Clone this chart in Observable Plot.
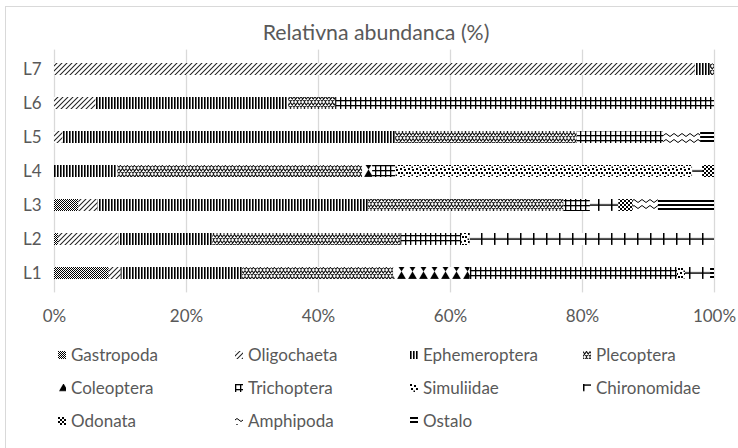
<!DOCTYPE html>
<html><head><meta charset="utf-8">
<script src="https://cdn.jsdelivr.net/npm/d3@7"></script>
<script src="https://cdn.jsdelivr.net/npm/@observablehq/plot@0.6"></script>
<style>
body{margin:0;background:#fff;font-family:Lato,"Open Sans",sans-serif;}
#wrap{position:relative;width:738px;height:448px;overflow:hidden;background:#fff;}
#frame{position:absolute;left:5px;top:6px;width:760px;height:470px;border:1px solid #d9d9d9;box-sizing:border-box;}
#title{position:absolute;left:0;top:18px;width:752px;text-align:center;font-size:21.3px;color:#595959;line-height:28px;}
#plot{position:absolute;left:0;top:0;}
.leg{position:absolute;display:flex;align-items:center;font-size:17px;color:#595959;line-height:20px;white-space:nowrap;}
.leg svg{margin-right:5px;flex:none;}
</style></head>
<body>
<svg width="0" height="0" style="position:absolute">
<defs>
<pattern id="p0" width="2" height="2" patternUnits="userSpaceOnUse"><rect width="2" height="2" fill="#fff"/><rect width="1" height="1" fill="#000"/><rect x="1" y="1" width="1" height="1" fill="#000"/></pattern>
<pattern id="p1" width="5" height="5" patternUnits="userSpaceOnUse"><rect width="5" height="5" fill="#fff"/><path d="M-1,6 L6,-1 M-1,1 L1,-1 M4,6 L6,4" stroke="#222" stroke-width="1.05"/></pattern>
<pattern id="p2" width="3" height="3" patternUnits="userSpaceOnUse"><rect width="3" height="3" fill="#fff"/><rect width="1.6" height="3" fill="#000"/></pattern>
<pattern id="p3" width="7" height="6" patternUnits="userSpaceOnUse"><rect width="7" height="6" fill="#fff"/><path d="M0,0.5 L3.5,5.5 L7,0.5 M0,5.5 L3.5,0.5 L7,5.5" stroke="#111" stroke-width="1.1" fill="none"/></pattern>
<pattern id="p4" width="11" height="34" y="62.86" patternUnits="userSpaceOnUse"><rect width="11" height="34" fill="#fff"/><path d="M2.5,0 L8.5,0 L5.5,4.5 Z M1,12.3 L10,12.3 L5.5,4.5 Z" fill="#000"/></pattern>
<pattern id="p5" width="5" height="5" patternUnits="userSpaceOnUse"><rect width="5" height="5" fill="#fff"/><rect width="1.3" height="5" fill="#000"/><rect width="5" height="1.3" fill="#000"/></pattern>
<pattern id="p6" width="8" height="8" patternUnits="userSpaceOnUse"><rect width="8" height="8" fill="#fff"/><rect x="0" y="0" width="2" height="2" fill="#000"/><rect x="4" y="1" width="2" height="2" fill="#000"/><rect x="1" y="4" width="2" height="2" fill="#000"/><rect x="6" y="4" width="2" height="2" fill="#000"/><rect x="3.5" y="6.5" width="1.5" height="1.5" fill="#000"/></pattern>
<pattern id="p7" width="13" height="34" y="62.86" patternUnits="userSpaceOnUse"><rect width="13" height="34" fill="#fff"/><rect width="1.5" height="12.3" fill="#000"/><rect y="5.4" width="13" height="1.5" fill="#000"/></pattern>
<pattern id="p8" width="4" height="4" patternUnits="userSpaceOnUse"><rect width="4" height="4" fill="#fff"/><rect width="2" height="2" fill="#000"/><rect x="2" y="2" width="2" height="2" fill="#000"/></pattern>
<pattern id="p9" width="8" height="6" patternUnits="userSpaceOnUse"><rect width="8" height="6" fill="#fff"/><path d="M0,3 Q2,0 4,3 T8,3" stroke="#000" stroke-width="1" fill="none"/></pattern>
<pattern id="p10" width="4" height="4" patternUnits="userSpaceOnUse"><rect width="4" height="4" fill="#fff"/><rect width="4" height="2" fill="#000"/></pattern>
</defs>
</svg>
<div id="wrap">
<div id="frame"></div>
<div id="title">Relativna abundanca (%)</div>
<div id="plot"></div>
</div>
<script>
const sites = ["L1","L2","L3","L4","L5","L6","L7"];
const taxa = ["Gastropoda","Oligochaeta","Ephemeroptera","Plecoptera","Coleoptera","Trichoptera","Simuliidae","Chironomidae","Odonata","Amphipoda","Ostalo"];
// values per site L1..L7 (%)
const gastropoda    = [8.3, 0.6, 3.7, 0,    0,    0,    0];
const oligochaeta   = [1.8, 9.2, 2.9, 0,    1.3,  6.3,  97.1];
const ephemeroptera = [18.4,14.2,41.0,9.6,  50.4, 29.2, 2.3];
const plecoptera    = [22.9,28.5,29.6,37.1, 27.5, 7.1,  0.6];
const coleoptera    = [11.6,0,   0,   1.5,  0,    0,    0];
const trichoptera   = [31.4,9.2, 4.0, 3.5,  13.1, 57.4, 0];
const simuliidae    = [1.2, 1.3, 0,   45.0, 0,    0,    0];
const chironomidae  = [3.8, 37.0,4.3, 1.5,  0,    0,    0];
const odonata       = [0,   0,   2.2, 1.8,  0,    0,    0];
const amphipoda     = [0,   0,   3.8, 0,    5.6,  0,    0];
const ostalo        = [0.6, 0,   8.5, 0,    2.1,  0,    0];
const xTicks = [0,20,40,60,80,100];

const series = [gastropoda,oligochaeta,ephemeroptera,plecoptera,coleoptera,trichoptera,simuliidae,chironomidae,odonata,amphipoda,ostalo];
const data = [];
sites.forEach((s,i)=>taxa.forEach((t,j)=>{ if(series[j][i]>0) data.push({site:s,taxon:t,value:series[j][i]}); }));
const fills = taxa.map((t,j)=>`url(#p${j})`);

const chart = Plot.plot({
  width: 738, height: 340,
  marginLeft: 54, marginRight: 24, marginTop: 49.6, marginBottom: 47.6,
  style: {color:"#595959", fontSize:"17px", fontFamily:"Lato, 'Open Sans', sans-serif", background:"transparent"},
  x: {domain:[0,100]},
  y: {domain: sites.slice().reverse(), paddingInner:0.64, paddingOuter:0.39},
  color: {domain: taxa, range: fills},
  marks: [
    Plot.gridX(xTicks, {stroke:"#d9d9d9", strokeOpacity:1, strokeWidth:1.3}),
    Plot.barX(data, Plot.stackX({x:"value", y:"site", fill:"taxon", order: taxa})),
    Plot.axisX({ticks:xTicks, tickSize:0, tickPadding:17, tickFormat:d=>d+"%", label:null}),
    Plot.axisY({tickSize:0, tickPadding:13, label:null})
  ]
});
document.getElementById("plot").appendChild(chart);

const cols = [58, 235, 410, 583];
const rows = [355, 388, 421];
const wrap = document.getElementById("wrap");
taxa.forEach((t,j)=>{
  const d = document.createElement("div");
  d.className = "leg";
  d.style.left = cols[j%4]+"px";
  d.style.top = (rows[Math.floor(j/4)]-10)+"px";
  d.innerHTML = `<svg width="8" height="8"><rect width="8" height="8" fill="${fills[j]}"/></svg><span>${t}</span>`;
  wrap.appendChild(d);
});
</script>
</body></html>
